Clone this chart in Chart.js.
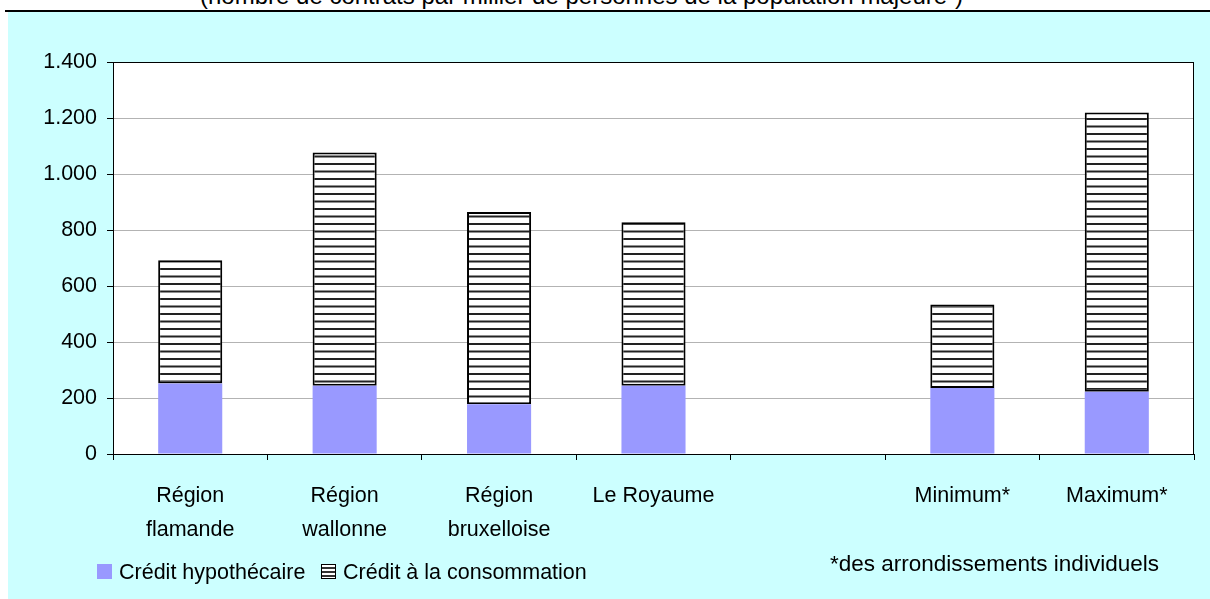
<!DOCTYPE html>
<html>
<head>
<meta charset="utf-8">
<script src="https://cdn.jsdelivr.net/npm/chart.js@4.4.0/dist/chart.umd.min.js"></script>
<style>
body { margin: 0; width: 1210px; height: 599px; overflow: hidden; background: #fff; position: relative;
       font-family: "Liberation Sans", Arial, sans-serif; color: #000; }
#title { position: absolute; left: 200px; top: -16px; font-size: 24px; line-height: 24px; white-space: nowrap; }
#rule { position: absolute; left: 5px; top: 10px; width: 1205px; height: 2px; background: #000; }
#panel { position: absolute; left: 8px; top: 12px; width: 1202px; height: 587px; background: #ccffff; }
#wrap { position: absolute; left: 0; top: 0; width: 1210px; height: 599px; }
.txt { position: absolute; font-size: 21.5px; line-height: 22px; white-space: nowrap; }
.box { position: absolute; width: 15px; height: 15px; box-sizing: border-box; }
</style>
</head>
<body>
<div id="title">(nombre de contrats par millier de personnes de la population majeure¹)</div>
<div id="rule"></div>
<div id="panel"></div>
<div id="wrap"><canvas id="chart-area" width="1210" height="599"></canvas></div>

<div class="box" style="left:97px;top:564px;background:#9999ff;"></div>
<div class="txt" id="leg1" style="left:119px;top:561px;"></div>
<div class="box" style="left:321px;top:564px;border:1.5px solid #000;background:repeating-linear-gradient(to bottom,#fff 0 2px,#333 2px 4px);"></div>
<div class="txt" id="leg2" style="left:343px;top:561px;"></div>
<div class="txt" style="left:830px;top:553px;font-size:22.5px;">*des arrondissements individuels</div>

<script>
var categories = [
    ['Région', 'flamande'],
    ['Région', 'wallonne'],
    ['Région', 'bruxelloise'],
    'Le Royaume',
    '',
    'Minimum*',
    'Maximum*'
];
var seriesNames = ['Crédit hypothécaire', 'Crédit à la consommation'];
var hypothecaire = [252, 244, 178, 244, null, 236, 222];
var consommation = [440, 833, 686, 584, null, 298, 998];
var yTicks = [0, 200, 400, 600, 800, 1000, 1200, 1400];

document.getElementById('leg1').textContent = seriesNames[0];
document.getElementById('leg2').textContent = seriesNames[1];

// horizontal stripes like the excel fill
var makeStripes = function() {
    var c = document.createElement('canvas');
    c.width = 8;
    c.height = 15;
    var g = c.getContext('2d');
    g.fillStyle = '#fff';
    g.fillRect(0, 0, 8, 15);
    g.fillStyle = '#222';
    g.fillRect(0, 5.5, 8, 2);
    g.fillRect(0, 13, 8, 2);
    return g.createPattern(c, 'repeat');
};

var thousands = function(v) {
    return String(v).replace(/\B(?=(\d{3})+(?!\d))/g, '.');
};

var plotFrame = {
    id: 'plotFrame',
    beforeDraw: function(chart) {
        var a = chart.chartArea, ctx = chart.ctx;
        ctx.save();
        ctx.fillStyle = '#fff';
        ctx.fillRect(a.left, a.top, a.right - a.left, a.bottom - a.top);
        ctx.restore();
    },
    afterDatasetsDraw: function(chart) {
        var a = chart.chartArea, ctx = chart.ctx;
        ctx.save();
        ctx.strokeStyle = '#000';
        ctx.lineWidth = 1;
        ctx.strokeRect(a.left + 0.5, a.top + 0.5, a.right - a.left - 1, a.bottom - a.top);
        ctx.restore();
    }
};

Chart.defaults.font.family = '"Liberation Sans", Arial, sans-serif';
Chart.defaults.font.size = 21.5;
Chart.defaults.color = '#000';

var config = {
    type: 'bar',
    data: {
        labels: categories,
        datasets: [{
            label: seriesNames[0],
            data: hypothecaire,
            backgroundColor: '#9999ff',
            borderWidth: 0
        }, {
            label: seriesNames[1],
            data: consommation,
            backgroundColor: makeStripes(),
            borderColor: '#000',
            borderWidth: 2,
            borderSkipped: false
        }]
    },
    options: {
        responsive: false,
        animation: false,
        events: [],
        layout: { padding: { left: 0, top: 62, right: 16, bottom: 5 } },
        datasets: { bar: { barPercentage: 0.415, categoryPercentage: 1 } },
        plugins: { legend: { display: false }, tooltip: { enabled: false } },
        scales: {
            x: {
                stacked: true,
                afterFit: function(s) { s.height = 140; },
                border: { color: '#000', width: 1 },
                grid: { drawOnChartArea: false, offset: true, tickLength: 6, tickColor: '#000' },
                ticks: { padding: 19, maxRotation: 0, autoSkip: false, font: { lineHeight: '34px' } }
            },
            y: {
                stacked: true,
                min: 0,
                max: 1400,
                afterFit: function(s) { s.width = 113; },
                afterBuildTicks: function(s) {
                    s.ticks = yTicks.map(function(v) { return { value: v }; });
                },
                border: { color: '#000', width: 1 },
                grid: { color: '#b3b3b3', tickLength: 6, tickColor: '#000' },
                ticks: { padding: 10, callback: function(v) { return thousands(v); } }
            }
        }
    },
    plugins: [plotFrame]
};

window.onload = function() {
    var ctx = document.getElementById('chart-area').getContext('2d');
    window.myBar = new Chart(ctx, config);
};
</script>
</body>
</html>
